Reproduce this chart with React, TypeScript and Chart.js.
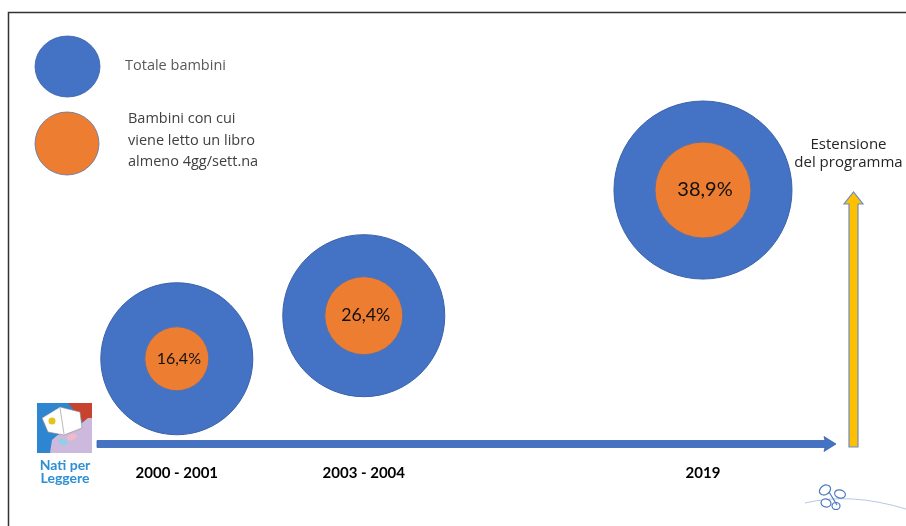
import React, { useEffect, useRef } from "react";
import { Chart, registerables } from "chart.js";

Chart.register(...registerables);

// ---- data ----
const periods = ["2000 - 2001", "2003 - 2004", "2019"];
const readPct = [16.4, 26.4, 38.9];
// place along the timeline (0 = start, 100 = arrow head)
const timelinePos = [10.8, 36.1, 82.0];
// height of each bubble above the timeline (0..100)
const riseLevel = [19.2, 28.9, 57.2];
// bubble sizes (radius)
const totalSize = [76, 81, 89];
const readSize = [32, 39, 48];

const legendTotal = "Totale bambini";
const legendRead = ["Bambini con cui", "viene letto un libro", "almeno 4gg/sett.na"];
const arrowLabel = ["Estensione", "del programma"];
const logoText = ["Nati per", "Leggere"];

const BLUE = "#4472C4";
const ORANGE = "#ED7D31";
const YELLOW = "#FFC000";
const FONT = "Lato, 'Open Sans', sans-serif";
const TEXT_FONT = "'Open Sans', Lato, sans-serif";

const fmtPct = (v: number) => v.toFixed(1).replace(".", ",") + "%";

const decor = {
  id: "decor",
  beforeDraw(chart: any) {
    const ctx = chart.ctx as CanvasRenderingContext2D;
    ctx.save();
    ctx.fillStyle = "#fff";
    ctx.fillRect(0, 0, chart.width, chart.height);
    // frame
    ctx.strokeStyle = "#333";
    ctx.lineWidth = 1.5;
    ctx.beginPath();
    ctx.moveTo(8.5, chart.height);
    ctx.lineTo(8.5, 12.5);
    ctx.lineTo(chart.width, 12.5);
    ctx.stroke();

    // timeline arrow along the x scale
    const xs = chart.scales.x;
    const x0 = xs.getPixelForValue(0);
    const x1 = xs.getPixelForValue(100);
    const yb = chart.chartArea.bottom;
    ctx.fillStyle = BLUE;
    ctx.strokeStyle = "#3a62ab";
    ctx.lineWidth = 0.8;
    ctx.beginPath();
    ctx.moveTo(x0, yb - 3.5);
    ctx.lineTo(x1 - 11, yb - 3.5);
    ctx.lineTo(x1 - 12, yb - 7.5);
    ctx.lineTo(x1, yb);
    ctx.lineTo(x1 - 12, yb + 7.5);
    ctx.lineTo(x1 - 11, yb + 3.5);
    ctx.lineTo(x0, yb + 3.5);
    ctx.closePath();
    ctx.fill();
    ctx.stroke();
    ctx.restore();
  },
  afterDatasetsDraw(chart: any) {
    const ctx = chart.ctx as CanvasRenderingContext2D;
    const meta = chart.getDatasetMeta(0);
    ctx.save();
    ctx.fillStyle = "#111";
    ctx.textAlign = "center";
    ctx.textBaseline = "middle";
    meta.data.forEach((pt: any, i: number) => {
      const size = 8 + readSize[i] * 0.25;
      ctx.font = `${size}px ${FONT}`;
      ctx.fillText(fmtPct(readPct[i]), pt.x + 2, pt.y);
    });
    ctx.restore();
  },
  afterDraw(chart: any) {
    const ctx = chart.ctx as CanvasRenderingContext2D;
    ctx.save();
    // legend
    ctx.fillStyle = BLUE;
    ctx.strokeStyle = "#3a62ab";
    ctx.lineWidth = 0.8;
    ctx.beginPath();
    ctx.ellipse(67.5, 66.5, 32.5, 30.5, 0, 0, Math.PI * 2);
    ctx.fill();
    ctx.stroke();
    ctx.fillStyle = ORANGE;
    ctx.strokeStyle = "#5a72a8";
    ctx.beginPath();
    ctx.ellipse(67, 143.5, 32, 31.5, 0, 0, Math.PI * 2);
    ctx.fill();
    ctx.stroke();

    ctx.textAlign = "left";
    ctx.textBaseline = "middle";
    ctx.font = `14.5px ${TEXT_FONT}`;
    ctx.fillStyle = "#595959";
    ctx.fillText(legendTotal, 125, 66);
    ctx.fillStyle = "#404040";
    legendRead.forEach((t, i) => ctx.fillText(t, 128, 119 + i * 21.5));

    // yellow arrow "Estensione del programma"
    const cx = chart.chartArea.right + 17.5;
    const yb = chart.chartArea.bottom;
    ctx.fillStyle = YELLOW;
    ctx.strokeStyle = "#6d8ccc";
    ctx.lineWidth = 1.2;
    ctx.beginPath();
    ctx.moveTo(cx - 4.5, yb + 3);
    ctx.lineTo(cx - 4.5, 204);
    ctx.lineTo(cx - 9.5, 204);
    ctx.lineTo(cx, 192);
    ctx.lineTo(cx + 9.5, 204);
    ctx.lineTo(cx + 4.5, 204);
    ctx.lineTo(cx + 4.5, yb + 3);
    ctx.closePath();
    ctx.fill();
    ctx.stroke();

    ctx.textAlign = "center";
    ctx.fillStyle = "#262626";
    ctx.font = `15px ${TEXT_FONT}`;
    arrowLabel.forEach((t, i) => ctx.fillText(t, cx - 5, 145 + i * 18));

    // logo "Nati per Leggere"
    ctx.fillStyle = "#2f86d0";
    ctx.fillRect(37, 403, 55, 50);
    ctx.fillStyle = "#c8432e";
    ctx.beginPath();
    ctx.moveTo(68, 403);
    ctx.lineTo(92, 403);
    ctx.lineTo(92, 434);
    ctx.quadraticCurveTo(82, 420, 68, 403);
    ctx.fill();
    ctx.fillStyle = "#cdb9dd";
    ctx.beginPath();
    ctx.moveTo(50, 453);
    ctx.lineTo(52, 440);
    ctx.quadraticCurveTo(62, 430, 76, 428);
    ctx.lineTo(88, 418);
    ctx.lineTo(92, 418);
    ctx.lineTo(92, 453);
    ctx.closePath();
    ctx.fill();
    ctx.fillStyle = "#fff";
    ctx.strokeStyle = "#8a8a8a";
    ctx.lineWidth = 0.6;
    ctx.beginPath();
    ctx.moveTo(42, 418);
    ctx.lineTo(60, 407);
    ctx.lineTo(80, 412);
    ctx.lineTo(82, 428);
    ctx.lineTo(64, 435);
    ctx.lineTo(48, 432);
    ctx.closePath();
    ctx.fill();
    ctx.stroke();
    ctx.beginPath();
    ctx.moveTo(60, 408);
    ctx.lineTo(64, 434);
    ctx.stroke();
    ctx.fillStyle = "#e8c21a";
    ctx.beginPath();
    ctx.arc(52, 421, 3.5, 0, Math.PI * 2);
    ctx.fill();
    ctx.fillStyle = "#f4b8c8";
    ctx.beginPath();
    ctx.ellipse(72, 437, 5, 3, -0.4, 0, Math.PI * 2);
    ctx.fill();
    ctx.fillStyle = "#8fd0e8";
    ctx.beginPath();
    ctx.ellipse(63, 442, 5, 3, 0.3, 0, Math.PI * 2);
    ctx.fill();

    ctx.fillStyle = "#2d8fd5";
    ctx.font = `bold 14px ${FONT}`;
    ctx.textAlign = "center";
    logoText.forEach((t, i) => ctx.fillText(t, 65, 465 + i * 13.5));

    // butterfly
    ctx.strokeStyle = "#b9c6e6";
    ctx.lineWidth = 1;
    ctx.beginPath();
    ctx.moveTo(805, 503);
    ctx.quadraticCurveTo(850, 492, 906, 509);
    ctx.stroke();
    ctx.strokeStyle = "#4a78c0";
    ctx.lineWidth = 1.2;
    const wing = (x: number, y: number, rx: number, ry: number, rot: number) => {
      ctx.beginPath();
      ctx.ellipse(x, y, rx, ry, rot, 0, Math.PI * 2);
      ctx.fill();
      ctx.stroke();
    };
    ctx.fillStyle = "#ffffff";
    wing(825, 490, 6, 4.5, -0.6);
    wing(826, 503, 5, 4, 0.2);
    wing(840, 494, 5.5, 4, 0.3);
    wing(836, 506, 4, 3.5, 0);
    ctx.beginPath();
    ctx.moveTo(829, 492);
    ctx.lineTo(837, 505);
    ctx.stroke();
    ctx.restore();
  },
};

export default function App() {
  const ref = useRef<HTMLCanvasElement | null>(null);

  useEffect(() => {
    if (!ref.current) return;
    const chart = new Chart(ref.current, {
      type: "bubble",
      data: {
        datasets: [
          {
            label: legendRead.join(" "),
            data: periods.map((_, i) => ({ x: timelinePos[i], y: riseLevel[i], r: readSize[i] })),
            backgroundColor: ORANGE,
            borderColor: "#5a72a8",
            borderWidth: 1,
            order: 1,
            clip: false as any,
          },
          {
            label: legendTotal,
            data: periods.map((_, i) => ({ x: timelinePos[i], y: riseLevel[i], r: totalSize[i] })),
            backgroundColor: BLUE,
            borderColor: "#3a62ab",
            borderWidth: 1,
            order: 2,
            clip: false as any,
          },
        ],
      },
      options: {
        animation: false,
        responsive: true,
        maintainAspectRatio: false,
        events: [],
        layout: { autoPadding: false, padding: { left: 97, right: 70, top: 0, bottom: 24 } },
        plugins: { legend: { display: false }, tooltip: { enabled: false } },
        scales: {
          x: {
            type: "linear",
            min: 0,
            max: 100,
            grid: { display: false, drawTicks: false },
            border: { display: false },
            afterBuildTicks: (s: any) => {
              s.ticks = timelinePos.map((v) => ({ value: v }));
            },
            ticks: {
              autoSkip: false,
              maxRotation: 0,
              padding: 20,
              color: "#000",
              font: { family: FONT, size: 15, weight: "bold" },
              callback: (_v: any, i: number) => periods[i],
            },
          },
          y: { display: false, min: 0, max: 100 },
        },
      },
      plugins: [decor],
    });
    return () => chart.destroy();
  }, []);

  return (
    <div style={{ position: "absolute", left: 0, top: 0, width: 906, height: 526 }}>
      <canvas ref={ref} />
    </div>
  );
}
